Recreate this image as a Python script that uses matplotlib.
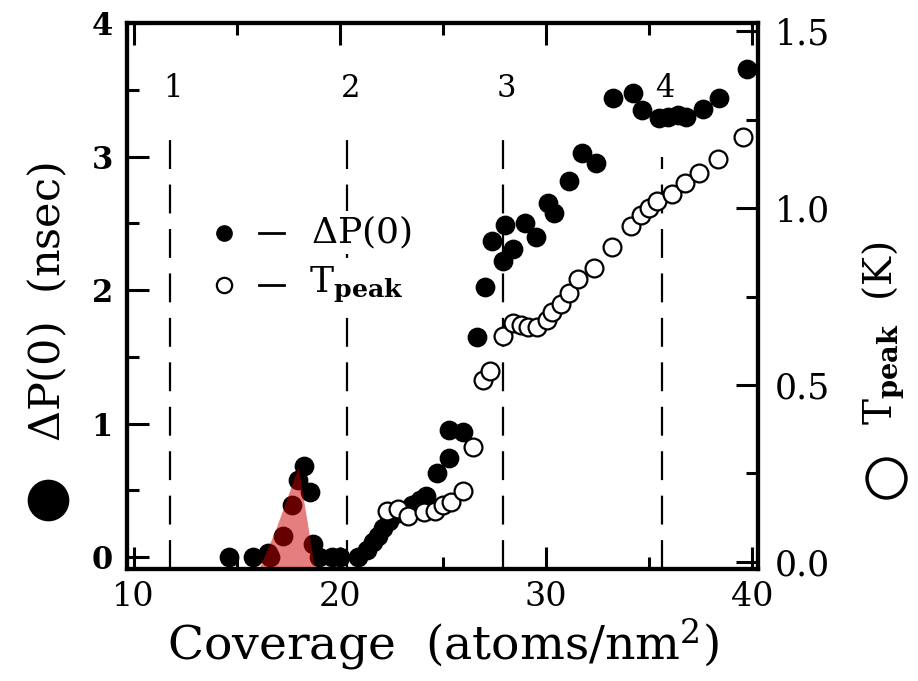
import matplotlib
matplotlib.use('Agg')
import matplotlib.pyplot as plt
from matplotlib.lines import Line2D
from matplotlib.ticker import MultipleLocator, FormatStrFormatter

# Delta P(0) (filled circles, left axis, nsec)
dp_x = [14.6, 15.8, 16.5, 16.6, 17.23, 17.67, 17.96, 18.25, 18.54, 18.7, 19.0, 19.6, 20.0,
        20.9, 21.3, 21.6, 21.85, 22.1, 22.4, 22.8, 23.2, 23.5, 23.9, 24.2, 24.7, 25.3, 25.3,
        25.97, 26.65, 27.04, 27.4, 27.9, 28.0, 28.4, 29.0, 29.5, 30.1, 30.4, 31.1, 31.75,
        32.4, 33.25, 34.2, 34.66, 35.5, 35.9, 36.4, 36.8, 37.6, 38.4, 39.76]
dp_y = [0, 0, 0.03, 0, 0.16, 0.39, 0.58, 0.68, 0.49, 0.10, 0, 0, 0,
        0, 0.05, 0.11, 0.16, 0.22, 0.27, 0.33, 0.35, 0.39, 0.43, 0.46, 0.63, 0.74, 0.95,
        0.94, 1.65, 2.02, 2.37, 2.22, 2.49, 2.31, 2.50, 2.40, 2.65, 2.58, 2.82, 3.03,
        2.95, 3.44, 3.48, 3.35, 3.29, 3.30, 3.31, 3.30, 3.36, 3.44, 3.66]

# T_peak (open circles, right axis, K)
tp_x = [22.3, 22.8, 23.3, 24.1, 24.6, 25.0, 25.4, 25.97, 26.46, 26.95, 27.3, 27.9, 28.4,
        28.8, 29.1, 29.55, 30.05, 30.3, 30.7, 31.1, 31.55, 32.3, 33.2, 34.1, 34.6, 35.0,
        35.4, 36.1, 36.75, 37.4, 38.35, 39.56]
tp_y = [0.145, 0.15, 0.13, 0.14, 0.145, 0.16, 0.17, 0.20, 0.325, 0.514, 0.54, 0.64, 0.675,
        0.67, 0.664, 0.664, 0.684, 0.706, 0.73, 0.76, 0.80, 0.83, 0.89, 0.95, 0.98, 1.00,
        1.02, 1.04, 1.07, 1.10, 1.14, 1.20]

# layer boundaries (dashed lines) and their labels
layer_x = [11.75, 20.35, 27.9, 35.6]
layer_top = [3.2, 3.2, 3.2, 3.0]
layer_labels = ['1', '2', '3', '4']

# shaded peak region
peak_x = [16.1, 16.9, 18.0, 18.5, 18.65, 18.8]
peak_y = [-0.09, 0.2, 0.67, 0.2, 0.05, -0.09]

plt.rcParams['font.family'] = ['DejaVu Serif']
plt.rcParams['mathtext.fontset'] = 'dejavuserif'

fig = plt.figure(figsize=(9.18, 6.81), dpi=100)
ax = fig.add_axes([0.138, 0.1645, 0.688, 0.8015])
ax2 = ax.twinx()

ax.set_xlim(9.66, 40.29)
ax.set_ylim(-0.09, 4.0)
ax2.set_ylim(-0.02, 1.523)

# dashed layer lines
for x, top, lab in zip(layer_x, layer_top, layer_labels):
    ax.plot([x, x], [-0.09, top], color='black', lw=1.6, linestyle=(0, (13, 7)), zorder=1)
    ax.text(x + 0.15, 3.51, lab, ha='center', va='center', fontsize=22)

ax.scatter(dp_x, dp_y, s=175, color='black', zorder=3, clip_on=False)
ax2.scatter(tp_x, tp_y, s=165, facecolor='white', edgecolor='black', linewidth=1.6,
            zorder=3)

ax.fill(peak_x, peak_y, color='#cc0000', alpha=0.5, lw=0, zorder=4)

# legend (white boxes hide the dashed line behind the text)
ax.plot([14.4], [2.43], 'o', color='black', ms=11, zorder=5)
ax.plot([16.1, 17.3], [2.43, 2.43], color='black', lw=2, zorder=5)
ax.text(18.6, 2.43, r'$\Delta$P(0)', fontsize=26, va='center', zorder=5,
        bbox=dict(facecolor='white', edgecolor='none', pad=2))
ax.plot([14.4], [2.04], 'o', mfc='white', mec='black', mew=1.6, ms=11, zorder=5)
ax.plot([16.1, 17.3], [2.04, 2.04], color='black', lw=2, zorder=5)
ax.text(18.5, 2.04, r'T$_{\mathbf{peak}}$', fontsize=26, va='center', zorder=5,
        bbox=dict(facecolor='white', edgecolor='none', pad=2))

# axes styling
for a in (ax, ax2):
    for sp in a.spines.values():
        sp.set_linewidth(3)
ax.xaxis.set_major_locator(MultipleLocator(10))
ax.xaxis.set_minor_locator(MultipleLocator(5))
ax.yaxis.set_major_locator(MultipleLocator(1))
ax.yaxis.set_minor_locator(MultipleLocator(0.5))
ax2.yaxis.set_major_locator(MultipleLocator(0.5))
ax2.yaxis.set_minor_locator(MultipleLocator(0.25))

ax.tick_params(which='both', direction='in', top=True, right=False, width=2.2)
ax.tick_params(which='major', length=16)
ax.tick_params(which='minor', length=8.5)
ax.tick_params(axis='x', labelsize=24, pad=9)
ax.tick_params(axis='y', labelsize=22, pad=10)
for lab in ax.get_yticklabels():
    lab.set_fontweight('bold')
ax2.tick_params(which='both', direction='in', width=2.2)
ax2.tick_params(which='major', length=16, labelsize=25, pad=12)
ax2.tick_params(which='minor', length=8.5)
ax2.yaxis.set_major_formatter(FormatStrFormatter('%.1f'))

ax.set_xlabel(r'Coverage  (atoms/nm$^2$)', fontsize=34, labelpad=2)

# y labels with marker symbols
fig.text(0.052, 0.556, r'$\Delta$P(0)  ' + '(nsec)', rotation=90, fontsize=31,
         ha='center', va='center')
fig.add_artist(Line2D([0.052], [1 - 500 / 681], marker='o', color='black', ms=29,
                      transform=fig.transFigure))
fig.text(0.963, 0.51, r'T$_{\mathbf{peak}}$  (K)', rotation=90, fontsize=28,
         ha='center', va='center')
fig.add_artist(Line2D([0.965], [1 - 478 / 681], marker='o', mfc='white', mec='black',
                      mew=2.5, ms=28, transform=fig.transFigure))

plt.savefig('out.png', dpi=100)
